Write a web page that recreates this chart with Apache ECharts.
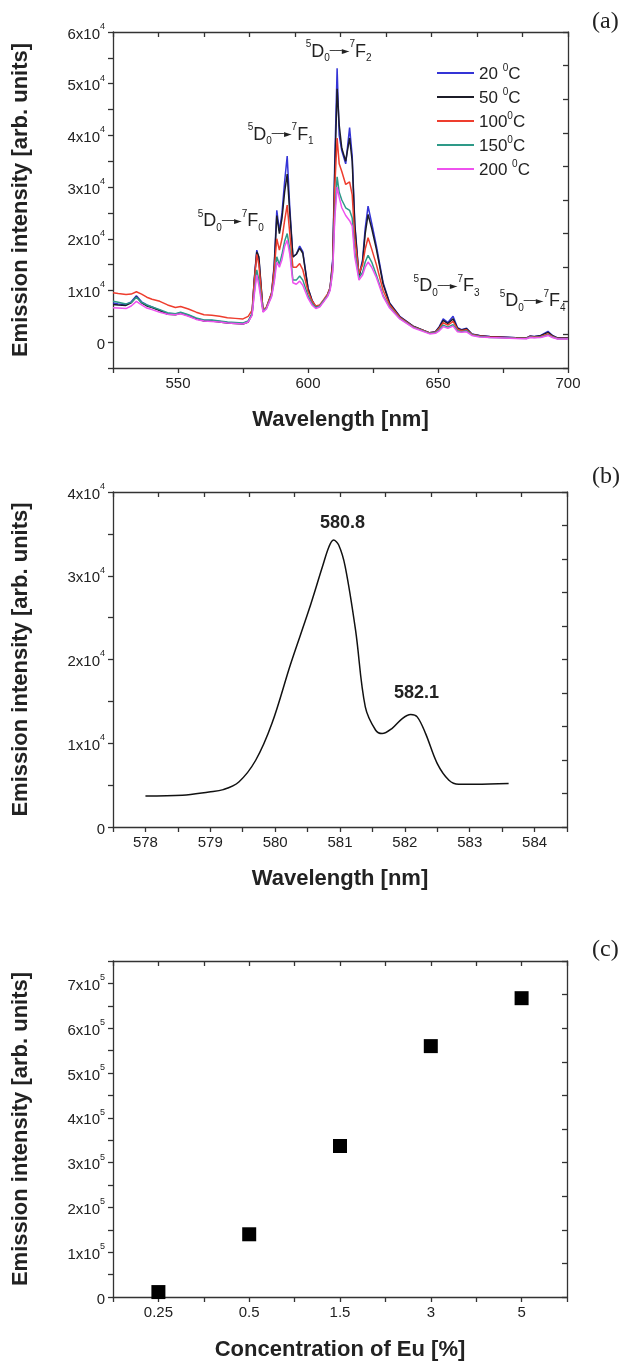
<!DOCTYPE html>
<html><head><meta charset="utf-8">
<script src="https://cdn.jsdelivr.net/npm/echarts@6/dist/echarts.min.js"></script>
<style>html,body{margin:0;padding:0;background:#fff}#c{width:628px;height:1368px}</style>
</head><body><div id="c"></div>
<script>
// ---------- Panel (a): emission spectra at different temperatures ----------
const wavelengthA = [525,527,530,532,534,
 536,538,540,543,546,
 549,551,554,557,560,
 563,566,569,572,575,
 577,578.5,579.3,580.3,581.1,
 582.7,584,586,587,588,
 589,590,591,592,593,
 594.2,595.5,596.8,598,600,
 601.5,603,604.5,606,607.5,
 608.5,609.5,610.3,611.2,612,
 613,614.5,616,617,618,
 619.6,621,622,623.1,624.5,
 626.3,628.9,631.4,635.3,640.4,
 646.8,649,650.5,652,653.8,
 655.8,657.5,659,661,663,
 666,670,675,680,684,
 685.5,687,689.5,692.3,694,
 696,700];
const int20C = [7600,7400,7300,7800,9000,
 7800,7200,6800,6200,5500,
 5400,5700,5200,4600,4200,
 4200,4000,3800,3700,3600,
 4000,5500,12000,17800,16200,
 6000,6600,9500,15000,25500,
 21500,25000,31000,36000,26000,
 16500,17000,18600,17500,10500,
 8200,6800,7000,8000,9200,
 10500,16000,35000,53000,40000,
 37000,34500,41500,36000,23000,
 12800,16000,22000,26300,23000,
 18600,11500,7600,5000,3100,
 1800,2000,3000,4500,3800,
 5000,2800,2400,2700,1600,
 1300,1100,1000,850,800,
 1200,1100,1300,2100,1300,
 800,800];
const int50C = [7300,7200,7100,7600,8800,
 7600,7000,6700,6100,5400,
 5300,5600,5100,4500,4100,
 4100,3900,3700,3600,3500,
 3900,5400,11800,17500,16500,
 6000,6600,9400,14500,24500,
 21000,24000,29000,32500,25000,
 16500,17000,18200,17200,10400,
 8100,6800,7000,8000,9100,
 10400,15500,33000,49000,42000,
 37500,35000,39500,35000,22500,
 12600,15500,21000,24700,22000,
 18000,11200,7500,4900,3100,
 1800,1950,2900,4200,3600,
 4500,2700,2300,2600,1550,
 1250,1050,950,830,780,
 1150,1050,1250,1900,1250,
 780,780];
const int100C = [9550,9400,9200,9300,9750,
 9300,8700,8300,7900,7200,
 6700,6900,6400,5800,5300,
 5200,5000,4700,4600,4500,
 5000,6200,11500,17000,15000,
 6200,6800,9500,14000,20000,
 17800,20000,23500,26500,21000,
 14500,14500,15200,14000,9800,
 8000,7000,7200,8200,9300,
 10500,15000,30000,39500,34500,
 33000,30500,31000,28500,20000,
 13300,15000,18000,20200,18000,
 15000,10000,7200,4800,3000,
 1800,1900,2700,3750,3300,
 4000,2500,2200,2400,1500,
 1200,1000,900,800,750,
 1100,1000,1100,1600,1100,
 700,700];
const int150C = [7900,7700,7400,7700,8700,
 7700,7200,6800,6300,5700,
 5500,5800,5300,4700,4300,
 4300,4100,3900,3800,3700,
 4100,5500,9500,14000,12000,
 6000,6600,9000,12000,16500,
 15000,17000,19500,21000,18000,
 12000,12000,12800,12000,9000,
 7500,6700,7000,8000,9000,
 10200,14000,25000,32000,29000,
 27500,26000,25500,24000,17500,
 12500,13500,15500,16800,15500,
 13000,9000,6800,4600,2900,
 1700,1800,2400,3300,2900,
 3400,2200,2000,2200,1400,
 1100,900,850,750,700,
 1000,900,1000,1400,1000,
 650,650];
const int200C = [6650,6600,6500,7000,7900,
 7200,6600,6300,5800,5400,
 5300,5500,5000,4400,4100,
 4000,3900,3700,3600,3500,
 3900,5200,9000,13000,11000,
 5800,6400,8800,11500,15500,
 14500,16000,18500,19700,17000,
 11500,11200,11800,11000,8500,
 7200,6500,6800,7800,8800,
 10000,13500,24000,30000,28000,
 26000,24500,23500,22500,16500,
 12000,13000,14500,15500,14500,
 12500,8800,6600,4500,2800,
 1600,1700,2200,3000,2700,
 3100,2000,1900,2000,1300,
 1000,900,800,700,650,
 900,850,900,1300,900,
 600,600];
const tempNames = ['20 °C', '50 °C', '100 °C', '150 °C', '200 °C'];
const tempLegendText = ['20 ', '50 ', '100', '150', '200 '];
const transitions = ['0', '1', '2', '3', '4'];
const transitionAnchorX = [570.3, 589.5, 611.8, 653.3, 686.4];
const transitionAnchorY = [23350, 40150, 56200, 10780, 7870];

// ---------- Panel (b): 5D0 -> 7F0 line ----------
const wavelengthB = [578.0,578.57,578.98,579.2,579.44,579.7,579.95,580.24,580.52,580.73,580.83,580.9,580.98,581.08,581.24,581.39,581.55,581.65,581.8,581.96,582.09,582.19,582.32,582.5,582.68,582.83,583.09,583.6];
const intensityB = [3700,3780,4180,4460,5380,7970,12350,19500,25900,31100,33470,34260,33670,31100,23500,14340,11550,11150,11750,12950,13430,13150,11150,7570,5580,5100,5100,5180];
const peakLabelsB = ['580.8', '582.1'];
const peakAnchorX = [581.04, 582.18];
const peakAnchorY = [36300, 16000];

// ---------- Panel (c): intensity vs Eu concentration ----------
const concCategories = ['0.25', '0.5', '1.5', '3', '5'];
const concIntensity = [11000, 140000, 337000, 560000, 667000];

// ---------- styles ----------
const F = 'Liberation Sans, Arial, Helvetica, sans-serif';
const INK = '#222';
const tempColors = ['#3434d6', '#1c1c28', '#ee3d2e', '#2e9a88', '#ee52ee'];

const supRich = {
  b: {fontSize: 15, fontFamily: F, color: INK, lineHeight: 20, verticalAlign: 'bottom'},
  s: {fontSize: 9, fontFamily: F, color: INK, lineHeight: 10, verticalAlign: 'top'}
};
function sciFormatter(step, exp) {
  return function (v) {
    if (Math.abs(v) < 1e-9) return '{b|0}';
    const r = v / step;
    if (Math.abs(r - Math.round(r)) > 1e-6) return '';
    return '{b|' + Math.round(r) + 'x10}{s|' + exp + '}';
  };
}
const axisLineStyle = {color: '#333', width: 1.3};
function mirrorX(gi) {
  return {type: 'value', gridIndex: gi, position: 'top', min: 0, max: 10, interval: 1,
    axisLine: {show: true, onZero: false, lineStyle: axisLineStyle},
    axisTick: {show: true, inside: true, length: 5, lineStyle: axisLineStyle},
    axisLabel: {show: false}, splitLine: {show: false}};
}
function mirrorY(gi) {
  return {type: 'value', gridIndex: gi, position: 'right', min: 0, max: 10, interval: 1,
    axisLine: {show: true, onZero: false, lineStyle: axisLineStyle},
    axisTick: {show: true, inside: true, length: 5, lineStyle: axisLineStyle},
    axisLabel: {show: false}, splitLine: {show: false}};
}
function bottomX(gi, cfg) {
  return Object.assign({type: 'value', gridIndex: gi, position: 'bottom',
    axisLine: {show: true, onZero: false, lineStyle: axisLineStyle},
    axisTick: {show: true, inside: false, length: 5, lineStyle: axisLineStyle},
    splitLine: {show: false},
    nameLocation: 'middle', nameGap: 41,
    nameTextStyle: {fontSize: 22, fontWeight: 'bold', fontFamily: F, color: INK}}, cfg);
}
function leftY(gi, cfg) {
  return Object.assign({type: 'value', gridIndex: gi, position: 'left',
    name: 'Emission intensity [arb. units]', nameLocation: 'middle', nameGap: 81, nameRotate: 90,
    nameTextStyle: {fontSize: 22, fontWeight: 'bold', fontFamily: F, color: INK},
    axisLine: {show: true, onZero: false, lineStyle: axisLineStyle},
    axisTick: {show: true, inside: false, length: 5, lineStyle: axisLineStyle},
    splitLine: {show: false}}, cfg);
}
const xLabelStyle = {fontSize: 15, fontFamily: F, color: INK, margin: 8};

const noteRich = {
  u: {fontSize: 10, fontFamily: F, color: INK, lineHeight: 10, verticalAlign: 'top'},
  m: {fontSize: 18, fontFamily: F, color: INK, lineHeight: 24, verticalAlign: 'middle'},
  d: {fontSize: 10, fontFamily: F, color: INK, lineHeight: 9, verticalAlign: 'bottom'},
  a: {fontSize: 10, fontFamily: 'DejaVu Sans', color: INK, lineHeight: 24, verticalAlign: 'middle'}
};

const seriesA = [int20C, int50C, int100C, int150C, int200C].map(function (arr, i) {
  const s = {
    name: tempNames[i], type: 'line', xAxisIndex: 0, yAxisIndex: 0,
    data: wavelengthA.map(function (w, k) { return [w, arr[k]]; }),
    showSymbol: false, symbol: 'none', clip: true,
    lineStyle: {color: tempColors[i], width: 1.5}, itemStyle: {color: tempColors[i]},
    z: 2 + i
  };
  if (i === 0) {
    s.markPoint = {
      symbol: 'circle', symbolSize: 0, silent: true,
      data: transitions.map(function (t, k) {
        return {coord: [transitionAnchorX[k], transitionAnchorY[k]],
          label: {show: true, position: 'inside',
            formatter: '{u|5}{m|D}{d|0}{a|\u2500\u2500\u25BA}{u|7}{m|F}{d|' + t + '}',
            rich: noteRich}};
      })
    };
  }
  return s;
});

const option = {
  animation: false,
  backgroundColor: '#fff',
  grid: [
    {left: 113, top: 32, width: 455, height: 336},
    {left: 113, top: 492, width: 454, height: 335},
    {left: 113, top: 961, width: 454, height: 336}
  ],
  legend: {
    orient: 'vertical', left: 437, top: 63, padding: 0,
    itemWidth: 37, itemHeight: 2, icon: 'rect', itemGap: 4, selectedMode: false,
    data: tempNames,
    formatter: function (name) {
      const i = tempNames.indexOf(name);
      return '{n|' + tempLegendText[i] + '}{s|0}{n|C}';
    },
    textStyle: {rich: {
      n: {fontSize: 17, fontFamily: F, color: INK, lineHeight: 20, verticalAlign: 'bottom'},
      s: {fontSize: 10, fontFamily: F, color: INK, lineHeight: 10, verticalAlign: 'top'}
    }}
  },
  xAxis: [
    bottomX(0, {min: 525, max: 700, interval: 25, name: 'Wavelength [nm]',
      axisLabel: Object.assign({formatter: function (v) { return v % 50 === 0 ? String(v) : ''; }}, xLabelStyle)}),
    mirrorX(0),
    bottomX(1, {min: 577.5, max: 584.5, interval: 0.5, name: 'Wavelength [nm]',
      axisLabel: Object.assign({formatter: function (v) { return Number.isInteger(v) ? String(v) : ''; }}, xLabelStyle)}),
    mirrorX(1),
    bottomX(2, {min: 0.5, max: 5.5, interval: 0.5, name: 'Concentration of Eu [%]', nameGap: 42,
      axisLabel: Object.assign({formatter: function (v) { return Number.isInteger(v) ? concCategories[v - 1] : ''; }}, xLabelStyle)}),
    mirrorX(2)
  ],
  yAxis: [
    leftY(0, {min: -5000, max: 60000, interval: 5000,
      axisLabel: {formatter: sciFormatter(10000, 4), rich: supRich, margin: 8}}),
    mirrorY(0),
    leftY(1, {min: 0, max: 40000, interval: 5000,
      axisLabel: {formatter: sciFormatter(10000, 4), rich: supRich, margin: 8}}),
    mirrorY(1),
    leftY(2, {min: 0, max: 750000, interval: 50000,
      axisLabel: {formatter: sciFormatter(100000, 5), rich: supRich, margin: 8}}),
    mirrorY(2)
  ],
  series: seriesA.concat([
    {
      name: 'F0 line', type: 'line', xAxisIndex: 2, yAxisIndex: 2,
      data: wavelengthB.map(function (w, k) { return [w, intensityB[k]]; }),
      smooth: 0.35, showSymbol: false, symbol: 'none',
      lineStyle: {color: '#111', width: 1.5},
      markPoint: {
        symbol: 'circle', symbolSize: 0, silent: true,
        data: peakLabelsB.map(function (t, k) {
          return {coord: [peakAnchorX[k], peakAnchorY[k]],
            label: {show: true, position: 'inside', formatter: t,
              fontSize: 18, fontWeight: 'bold', fontFamily: F, color: INK}};
        })
      }
    },
    {
      name: 'Eu concentration', type: 'scatter', xAxisIndex: 4, yAxisIndex: 4,
      data: concIntensity.map(function (v, k) { return [k + 1, v]; }),
      symbol: 'rect', symbolSize: 14, itemStyle: {color: '#000', opacity: 1}
    }
  ]),
  graphic: [
    {type: 'text', left: 592, top: 10, style: {text: '(a)', font: '24px "Liberation Serif", "Times New Roman", serif', fill: INK}},
    {type: 'text', left: 592, top: 465, style: {text: '(b)', font: '24px "Liberation Serif", "Times New Roman", serif', fill: INK}},
    {type: 'text', left: 592, top: 938, style: {text: '(c)', font: '24px "Liberation Serif", "Times New Roman", serif', fill: INK}}
  ]
};

const chart = echarts.init(document.getElementById('c'), null, {renderer: 'canvas'});
chart.setOption(option);
</script>
</body></html>
